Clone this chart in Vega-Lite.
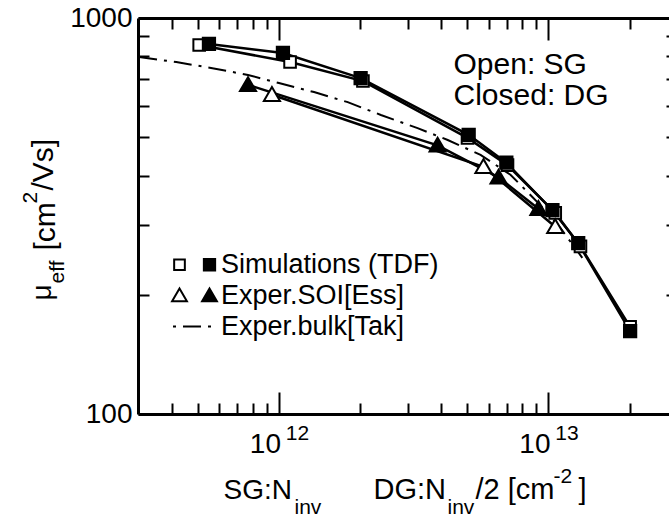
{
  "$schema": "https://vega.github.io/schema/vega-lite/v6.json",
  "width": 539,
  "height": 396,
  "autosize": {"type": "none"},
  "padding": {"left": 138, "top": 18, "right": -8, "bottom": 102},
  "background": "white",
  "config": {
    "font": "Liberation Sans",
    "view": {"stroke": null},
    "axis": {
      "grid": false, "domainColor": "black", "domainWidth": 3, "tickColor": "black", "tickWidth": 2,
      "labelColor": "black", "labelFont": "Liberation Sans", "titleFont": "Liberation Sans", "titleColor": "black",
      "titleFontWeight": "normal", "labelFlush": false, "labelOverlap": false, "labelBound": false,
      "titleAlign": "left", "titleBaseline": "alphabetic", "titleFontSize": 28, "labelFontSize": 28
    },
    "legend": {"labelFont": "Liberation Sans", "labelColor": "black", "labelFontSize": 27, "padding": 0, "offset": 0, "labelLimit": 500, "titlePadding": 0}
  },
  "data": {"values": [
    {"method": "Simulations (TDF)", "gate": "SG", "key": "Simulations (TDF) SG", "n": 5.06e11, "mu": 855},
    {"method": "Simulations (TDF)", "gate": "SG", "key": "Simulations (TDF) SG", "n": 1.1e12, "mu": 774},
    {"method": "Simulations (TDF)", "gate": "SG", "key": "Simulations (TDF) SG", "n": 2.05e12, "mu": 693},
    {"method": "Simulations (TDF)", "gate": "SG", "key": "Simulations (TDF) SG", "n": 5.01e12, "mu": 498},
    {"method": "Simulations (TDF)", "gate": "SG", "key": "Simulations (TDF) SG", "n": 7.05e12, "mu": 425},
    {"method": "Simulations (TDF)", "gate": "SG", "key": "Simulations (TDF) SG", "n": 1.06e13, "mu": 322},
    {"method": "Simulations (TDF)", "gate": "SG", "key": "Simulations (TDF) SG", "n": 1.315e13, "mu": 265},
    {"method": "Simulations (TDF)", "gate": "SG", "key": "Simulations (TDF) SG", "n": 2.01e13, "mu": 166},
    {"method": "Exper.SOI[Ess]", "gate": "SG", "key": "Exper.SOI[Ess] SG", "n": 9.42e11, "mu": 640},
    {"method": "Exper.SOI[Ess]", "gate": "SG", "key": "Exper.SOI[Ess] SG", "n": 5.74e12, "mu": 421},
    {"method": "Exper.SOI[Ess]", "gate": "SG", "key": "Exper.SOI[Ess] SG", "n": 1.06e13, "mu": 297},
    {"method": "Simulations (TDF)", "gate": "DG", "key": "Simulations (TDF) DG", "n": 5.5e11, "mu": 860},
    {"method": "Simulations (TDF)", "gate": "DG", "key": "Simulations (TDF) DG", "n": 1.035e12, "mu": 816},
    {"method": "Simulations (TDF)", "gate": "DG", "key": "Simulations (TDF) DG", "n": 2.01e12, "mu": 705},
    {"method": "Simulations (TDF)", "gate": "DG", "key": "Simulations (TDF) DG", "n": 5.06e12, "mu": 507},
    {"method": "Simulations (TDF)", "gate": "DG", "key": "Simulations (TDF) DG", "n": 6.98e12, "mu": 431},
    {"method": "Simulations (TDF)", "gate": "DG", "key": "Simulations (TDF) DG", "n": 1.035e13, "mu": 327},
    {"method": "Simulations (TDF)", "gate": "DG", "key": "Simulations (TDF) DG", "n": 1.29e13, "mu": 270},
    {"method": "Simulations (TDF)", "gate": "DG", "key": "Simulations (TDF) DG", "n": 2.01e13, "mu": 162},
    {"method": "Exper.SOI[Ess]", "gate": "DG", "key": "Exper.SOI[Ess] DG", "n": 7.68e11, "mu": 678},
    {"method": "Exper.SOI[Ess]", "gate": "DG", "key": "Exper.SOI[Ess] DG", "n": 3.88e12, "mu": 477},
    {"method": "Exper.SOI[Ess]", "gate": "DG", "key": "Exper.SOI[Ess] DG", "n": 6.53e12, "mu": 396},
    {"method": "Exper.SOI[Ess]", "gate": "DG", "key": "Exper.SOI[Ess] DG", "n": 9.18e12, "mu": 330},
    {"method": "Exper.bulk[Tak]", "gate": "bulk", "key": "Exper.bulk[Tak]", "n": 3.03e11, "mu": 797},
    {"method": "Exper.bulk[Tak]", "gate": "bulk", "key": "Exper.bulk[Tak]", "n": 4.16e11, "mu": 774},
    {"method": "Exper.bulk[Tak]", "gate": "bulk", "key": "Exper.bulk[Tak]", "n": 5.6e11, "mu": 748},
    {"method": "Exper.bulk[Tak]", "gate": "bulk", "key": "Exper.bulk[Tak]", "n": 7.68e11, "mu": 718},
    {"method": "Exper.bulk[Tak]", "gate": "bulk", "key": "Exper.bulk[Tak]", "n": 1.0e12, "mu": 685},
    {"method": "Exper.bulk[Tak]", "gate": "bulk", "key": "Exper.bulk[Tak]", "n": 1.35e12, "mu": 650},
    {"method": "Exper.bulk[Tak]", "gate": "bulk", "key": "Exper.bulk[Tak]", "n": 1.8e12, "mu": 613},
    {"method": "Exper.bulk[Tak]", "gate": "bulk", "key": "Exper.bulk[Tak]", "n": 2.39e12, "mu": 569},
    {"method": "Exper.bulk[Tak]", "gate": "bulk", "key": "Exper.bulk[Tak]", "n": 3.27e12, "mu": 527},
    {"method": "Exper.bulk[Tak]", "gate": "bulk", "key": "Exper.bulk[Tak]", "n": 4.23e12, "mu": 492},
    {"method": "Exper.bulk[Tak]", "gate": "bulk", "key": "Exper.bulk[Tak]", "n": 5.6e12, "mu": 451},
    {"method": "Exper.bulk[Tak]", "gate": "bulk", "key": "Exper.bulk[Tak]", "n": 7.23e12, "mu": 402},
    {"method": "Exper.bulk[Tak]", "gate": "bulk", "key": "Exper.bulk[Tak]", "n": 9.33e12, "mu": 337},
    {"method": "Exper.bulk[Tak]", "gate": "bulk", "key": "Exper.bulk[Tak]", "n": 1.107e13, "mu": 295},
    {"method": "Exper.bulk[Tak]", "gate": "bulk", "key": "Exper.bulk[Tak]", "n": 1.336e13, "mu": 248}
  ]},
  "layer": [
    {
      "transform": [{"filter": "datum.gate == 'bulk'"}],
      "mark": {"type": "line", "color": "black", "strokeWidth": 2},
      "encoding": {
        "x": {"field": "n", "type": "quantitative", "scale": {"type": "log", "domain": [3e11, 3e13], "nice": false},
          "axis": {"orient": "bottom", "values": [1e12, 1e13], "tickSize": -22, "labelExpr": "'10'", "labelAlign": "center", "labelOffset": -14, "labelBaseline": "alphabetic", "labelPadding": 60,
            "title": "SG:N", "titleX": 85, "titleY": 84}},
        "y": {"field": "mu", "type": "quantitative", "scale": {"type": "log", "domain": [100, 1000], "nice": false},
          "axis": {"orient": "left", "values": [100, 1000], "tickSize": -22, "labelExpr": "format(datum.value, 'd')", "labelPadding": 28, "labelAlign": "right", "labelBaseline": "middle",
            "title": "μ", "titleAngle": 270, "titleX": -88, "titleY": 282}},
        "strokeDash": {"field": "method", "type": "nominal", "scale": {"range": [[18, 7, 3, 7]]},
          "legend": {"title": null, "orient": "none", "legendX": 34, "legendY": 287, "symbolType": "stroke", "symbolSize": 1681, "symbolStrokeColor": "black", "symbolStrokeWidth": 2, "symbolDashOffset": 25, "labelOffset": 6}}
      }
    },
    {
      "transform": [{"filter": "datum.gate != 'bulk'"}],
      "mark": {"type": "line", "color": "black", "strokeWidth": 2.5},
      "encoding": {
        "x": {"field": "n", "type": "quantitative", "scale": {"type": "log", "domain": [3e11, 3e13], "nice": false},
          "axis": {"orient": "bottom", "values": [4e11, 5e11, 6e11, 7e11, 8e11, 9e11, 2e12, 3e12, 4e12, 5e12, 6e12, 7e12, 8e12, 9e12, 2e13], "tickSize": -11, "labels": false, "domain": false,
            "title": "inv", "titleFontSize": 21, "titleX": 156, "titleY": 99}},
        "y": {"field": "mu", "type": "quantitative", "scale": {"type": "log", "domain": [100, 1000], "nice": false},
          "axis": {"orient": "left", "values": [200, 300, 400, 500, 600, 700, 800, 900], "tickSize": -11, "labels": false, "domain": false,
            "title": "eff", "titleFontSize": 21, "titleAngle": 270, "titleX": -75, "titleY": 265}},
        "detail": {"field": "key", "type": "nominal"}
      }
    },
    {
      "transform": [{"filter": "datum.gate != 'bulk'"}],
      "mark": {"type": "point", "filled": true, "strokeWidth": 2, "opacity": 1, "size": 260},
      "encoding": {
        "x": {"field": "n", "type": "quantitative", "scale": {"type": "log", "domain": [3e11, 3e13], "nice": false},
          "axis": {"orient": "top", "values": [1e12, 1e13], "tickSize": -22, "labels": false,
            "title": "DG:N", "titleFontSize": 29, "titleX": 235, "titleY": 480}},
        "y": {"field": "mu", "type": "quantitative", "scale": {"type": "log", "domain": [100, 1000], "nice": false},
          "axis": {"orient": "right", "values": [200, 300, 400, 500, 600, 700, 800, 900], "tickSize": -11, "labels": false,
            "title": "[cm", "titleFontSize": 30, "titleAngle": 270, "titleX": -623, "titleY": 232}},
        "shape": {"field": "key", "type": "nominal",
          "scale": {"domain": ["Simulations (TDF) SG", "Exper.SOI[Ess] SG", "Simulations (TDF) DG", "Exper.SOI[Ess] DG"],
            "range": ["M-0.72,-0.72H0.72V0.72H-0.72Z", "M0,-0.95L1,0.78L-1,0.78Z", "M-0.76,-0.76H0.76V0.76H-0.76Z", "M0,-0.95L1,0.78L-1,0.78Z"]},
          "legend": {"title": null, "orient": "none", "legendX": 28, "legendY": 233, "columns": 2, "columnPadding": 5, "rowPadding": 3,
            "symbolStrokeWidth": 2, "symbolSize": 220, "labelOffset": -2,
            "labelExpr": "slice(datum.label, -2) == 'DG' ? slice(datum.label, 0, -3) : ''"}},
        "fill": {"field": "key", "type": "nominal",
          "scale": {"domain": ["Simulations (TDF) SG", "Exper.SOI[Ess] SG", "Simulations (TDF) DG", "Exper.SOI[Ess] DG"],
            "range": ["white", "white", "black", "black"]}},
        "stroke": {"field": "key", "type": "nominal",
          "scale": {"domain": ["Simulations (TDF) SG", "Exper.SOI[Ess] SG", "Simulations (TDF) DG", "Exper.SOI[Ess] DG"],
            "range": ["black", "black", "black", "black"]}}
      }
    },
    {
      "transform": [{"filter": "datum.gate == 'bulk'"}],
      "mark": {"type": "point", "opacity": 0},
      "encoding": {
        "x": {"field": "n", "type": "quantitative", "scale": {"type": "log", "domain": [3e11, 3e13], "nice": false},
          "axis": {"orient": "top", "values": [4e11, 5e11, 6e11, 7e11, 8e11, 9e11, 2e12, 3e12, 4e12, 5e12, 6e12, 7e12, 8e12, 9e12, 2e13], "tickSize": -11, "labels": false, "domain": false,
            "title": "inv", "titleFontSize": 21, "titleX": 309, "titleY": 495}},
        "y": {"field": "mu", "type": "quantitative", "scale": {"type": "log", "domain": [100, 1000], "nice": false},
          "axis": {"orient": "right", "ticks": false, "labels": false, "domain": false,
            "title": "2", "titleFontSize": 21, "titleAngle": 270, "titleX": -641, "titleY": 185}}
      }
    },
    {
      "transform": [{"filter": "datum.gate == 'bulk'"}],
      "mark": {"type": "point", "opacity": 0},
      "encoding": {
        "x": {"field": "n", "type": "quantitative", "scale": {"type": "log", "domain": [3e11, 3e13], "nice": false},
          "axis": {"orient": "bottom", "values": [1e12, 1e13], "ticks": false, "domain": false, "labelExpr": "datum.value < 5e12 ? '12' : '13'", "labelFontSize": 21, "labelAlign": "center", "labelOffset": 18, "labelBaseline": "alphabetic", "labelPadding": 25,
            "title": "/2 [cm", "titleFontSize": 29, "titleX": 337, "titleY": 84}},
        "y": {"field": "mu", "type": "quantitative", "scale": {"type": "log", "domain": [100, 1000], "nice": false},
          "axis": {"orient": "left", "ticks": false, "labels": false, "domain": false,
            "title": "/Vs]", "titleFontSize": 30, "titleAngle": 270, "titleX": -86, "titleY": 172}}
      }
    },
    {
      "transform": [{"filter": "datum.gate == 'bulk'"}],
      "mark": {"type": "point", "opacity": 0},
      "encoding": {
        "x": {"field": "n", "type": "quantitative", "scale": {"type": "log", "domain": [3e11, 3e13], "nice": false},
          "axis": {"orient": "bottom", "ticks": false, "labels": false, "domain": false,
            "title": "-2", "titleFontSize": 21, "titleX": 415, "titleY": 68}},
        "y": {"field": "mu", "type": "quantitative", "scale": {"type": "log", "domain": [100, 1000], "nice": false},
          "axis": {"orient": "right", "ticks": false, "labels": false, "domain": false,
            "title": ["Open: SG", "Closed: DG"], "titleAngle": 0, "titleFontSize": 30, "titleLineHeight": 31, "titleX": -224, "titleY": 55}}
      }
    },
    {
      "transform": [{"filter": "datum.gate == 'bulk'"}],
      "mark": {"type": "point", "opacity": 0},
      "encoding": {
        "x": {"field": "n", "type": "quantitative", "scale": {"type": "log", "domain": [3e11, 3e13], "nice": false},
          "axis": {"orient": "bottom", "ticks": false, "labels": false, "domain": false,
            "title": "]", "titleFontSize": 29, "titleX": 440, "titleY": 84}},
        "y": {"field": "mu", "type": "quantitative", "scale": {"type": "log", "domain": [100, 1000], "nice": false}, "axis": null}
      }
    }
  ],
  "resolve": {
    "axis": {"x": "independent", "y": "independent"}
  }
}
